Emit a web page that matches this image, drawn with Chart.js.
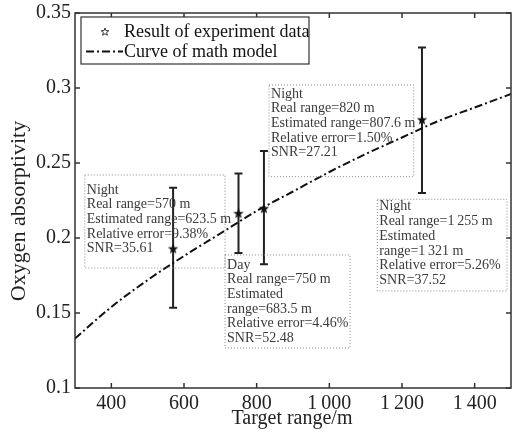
<!DOCTYPE html>
<html>
<head>
<meta charset="utf-8">
<script src="https://cdn.jsdelivr.net/npm/chart.js@4"></script>
<style>
  html, body { margin: 0; padding: 0; background: #fff; }
  #wrap { width: 518px; height: 432px; position: relative; }
</style>
</head>
<body>
<div id="wrap"><canvas id="chart"></canvas></div>
<script>
// experiment points (range in m, absorptivity with error bar ends)
const expRange = [570, 750, 820, 1255];
const expAbs = [0.193, 0.2165, 0.2198, 0.279];
const expLow = [0.1535, 0.190, 0.1825, 0.230];
const expHigh = [0.2335, 0.243, 0.258, 0.327];

// math model curve
const modelRange = [300, 400, 500, 600, 700, 800, 900, 1000, 1100, 1200, 1300, 1400, 1500];
const modelAbs = [0.133, 0.154, 0.172, 0.188, 0.203, 0.218, 0.231, 0.244, 0.256, 0.267, 0.278, 0.287, 0.296];

// axis ticks
const xTickVals = [400, 600, 800, 1000, 1200, 1400];
const xTickLabels = ['400', '600', '800', '1\u2009000', '1\u2009200', '1\u2009400'];
const yTickVals = [0.1, 0.15, 0.2, 0.25, 0.3, 0.35];
const yTickLabels = ['0.1', '0.15', '0.2', '0.25', '0.3', '0.35'];

// text boxes, anchored in data units
const notes = [
  { x0: 327, x1: 713, y0: 0.242, y1: 0.180, pad: 15,
    lines: ['Night', 'Real range=570 m', 'Estimated range=623.5 m', 'Relative error=9.38%', 'SNR=35.61'] },
  { x0: 713, x1: 1057, y0: 0.1887, y1: 0.1267, pad: 10,
    lines: ['Day', 'Real range=750 m', 'Estimated', 'range=683.5 m', 'Relative error=4.46%', 'SNR=52.48'] },
  { x0: 834, x1: 1232, y0: 0.302, y1: 0.2409, pad: 9,
    lines: ['Night', 'Real range=820 m', 'Estimated range=807.6 m', 'Relative error=1.50%', 'SNR=27.21'] },
  { x0: 1132, x1: 1489, y0: 0.2258, y1: 0.1647, pad: 7.5,
    lines: ['Night', 'Real range=1\u2009255 m', 'Estimated', 'range=1\u2009321 m', 'Relative error=5.26%', 'SNR=37.52'] }
];

const serif = "'Liberation Serif', 'Times New Roman', serif";

function starPath(ctx, cx, cy, r) {
  ctx.beginPath();
  for (let i = 0; i < 10; i++) {
    const rr = i % 2 === 0 ? r : r * 0.42;
    const a = -Math.PI / 2 + i * Math.PI / 5;
    const px = cx + rr * Math.cos(a), py = cy + rr * Math.sin(a);
    if (i === 0) ctx.moveTo(px, py); else ctx.lineTo(px, py);
  }
  ctx.closePath();
}

// filled star marker
const starImg = document.createElement('canvas');
starImg.width = 12; starImg.height = 12;
(() => {
  const c = starImg.getContext('2d');
  starPath(c, 6, 6.5, 5.5);
  c.fillStyle = '#111';
  c.fill();
})();

const framePlugin = {
  id: 'frame',
  beforeDatasetsDraw(chart) {
    const { ctx, scales: { x, y } } = chart;
    ctx.save();
    // error bars
    ctx.strokeStyle = '#222';
    ctx.lineWidth = 2;
    expRange.forEach((r, i) => {
      const px = x.getPixelForValue(r);
      const top = y.getPixelForValue(expHigh[i]);
      const bot = y.getPixelForValue(expLow[i]);
      ctx.beginPath();
      ctx.moveTo(px, top); ctx.lineTo(px, bot);
      ctx.moveTo(px - 4, top); ctx.lineTo(px + 4, top);
      ctx.moveTo(px - 4, bot); ctx.lineTo(px + 4, bot);
      ctx.stroke();
    });
    ctx.restore();
  },
  afterDraw(chart) {
    const { ctx, chartArea: a, scales: { x, y } } = chart;
    ctx.save();
    // axes box with inward ticks
    ctx.strokeStyle = '#333';
    ctx.lineWidth = 1.5;
    ctx.strokeRect(a.left, a.top, a.right - a.left, a.bottom - a.top);
    ctx.beginPath();
    xTickVals.forEach(v => {
      const px = x.getPixelForValue(v);
      ctx.moveTo(px, a.bottom); ctx.lineTo(px, a.bottom - 5);
      ctx.moveTo(px, a.top); ctx.lineTo(px, a.top + 5);
    });
    yTickVals.forEach(v => {
      const py = y.getPixelForValue(v);
      ctx.moveTo(a.left, py); ctx.lineTo(a.left + 5, py);
      ctx.moveTo(a.right, py); ctx.lineTo(a.right - 5, py);
    });
    ctx.stroke();

    // axis titles
    ctx.fillStyle = '#222';
    ctx.textAlign = 'center';
    ctx.textBaseline = 'middle';
    ctx.font = '20px ' + serif;
    ctx.fillText('Target range/m', (a.left + a.right) / 2 - 1, 419);
    ctx.save();
    ctx.translate(19, 211);
    ctx.rotate(-Math.PI / 2);
    ctx.font = '22px ' + serif;
    ctx.fillText('Oxygen absorptivity', 0, 0);
    ctx.restore();
    ctx.textAlign = 'left';

    // dotted note boxes
    ctx.font = '14px ' + serif;
    notes.forEach(n => {
      const l = x.getPixelForValue(n.x0), r = x.getPixelForValue(n.x1);
      const t = y.getPixelForValue(n.y0), b = y.getPixelForValue(n.y1);
      ctx.setLineDash([1, 2]);
      ctx.lineWidth = 1;
      ctx.strokeStyle = '#8a8a8a';
      ctx.strokeRect(l, t, r - l, b - t);
      ctx.setLineDash([]);
      ctx.fillStyle = '#3a3a3a';
      n.lines.forEach((s, i) => ctx.fillText(s, l + 2, t + n.pad + i * 14.7));
    });

    // legend
    const L = 81, T = 17, R = 309, B = 64;
    ctx.fillStyle = '#fff';
    ctx.fillRect(L, T, R - L, B - T);
    ctx.strokeStyle = '#333';
    ctx.lineWidth = 1.2;
    ctx.strokeRect(L, T, R - L, B - T);
    starPath(ctx, 105, 32, 4);
    ctx.lineWidth = 1;
    ctx.stroke();
    ctx.beginPath();
    ctx.setLineDash([8, 3, 2, 3]);
    ctx.lineWidth = 2;
    ctx.strokeStyle = '#111';
    ctx.moveTo(86, 51.5); ctx.lineTo(123, 51.5);
    ctx.stroke();
    ctx.setLineDash([]);
    ctx.fillStyle = '#111';
    ctx.font = '18px ' + serif;
    ctx.fillText('Result of experiment data', 124, 32);
    ctx.fillText('Curve of math model', 124, 52);
    ctx.restore();
  }
};

new Chart(document.getElementById('chart'), {
  type: 'scatter',
  data: {
    datasets: [
      {
        label: 'Curve of math model',
        data: modelRange.map((r, i) => ({ x: r, y: modelAbs[i] })),
        showLine: true,
        borderColor: '#111',
        borderWidth: 2,
        borderDash: [8, 3, 2, 3],
        pointRadius: 0,
        cubicInterpolationMode: 'monotone',
        fill: false
      },
      {
        label: 'Result of experiment data',
        data: expRange.map((r, i) => ({ x: r, y: expAbs[i] })),
        showLine: false,
        pointStyle: starImg,
        pointRadius: 6
      }
    ]
  },
  options: {
    responsive: true,
    maintainAspectRatio: false,
    animation: false,
    layout: { padding: { top: 13, right: 0, left: 0, bottom: 0 } },
    plugins: {
      legend: { display: false },
      tooltip: { enabled: false }
    },
    scales: {
      x: {
        type: 'linear',
        min: 300,
        max: 1500,
        grid: { display: false },
        border: { display: false },
        afterBuildTicks: s => { s.ticks = xTickVals.map(v => ({ value: v })); },
        afterFit: s => { s.height = 44; },
        ticks: {
          padding: -4,
          color: '#222',
          font: { family: serif, size: 20 },
          callback: (v, i) => xTickLabels[i]
        }
      },
      y: {
        type: 'linear',
        min: 0.1,
        max: 0.35,
        grid: { display: false },
        border: { display: false },
        afterBuildTicks: s => { s.ticks = yTickVals.map(v => ({ value: v })); },
        afterFit: s => { s.width = 75; },
        ticks: {
          padding: -4,
          color: '#222',
          font: { family: serif, size: 20 },
          callback: (v, i) => yTickLabels[i]
        }
      }
    }
  },
  plugins: [framePlugin]
});
</script>
</body>
</html>
